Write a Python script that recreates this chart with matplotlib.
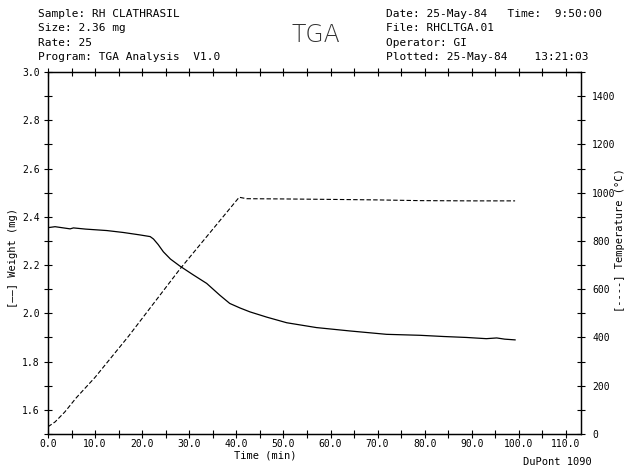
import matplotlib
matplotlib.use("Agg")
import matplotlib.pyplot as plt
from matplotlib.ticker import MultipleLocator, FormatStrFormatter

# weight trace (solid)
time_w = [0, 1.5, 4.7, 5.4, 8.0, 12.5, 16.0, 19.5, 21.7, 22.4, 23.4, 24.5, 26.0,
          28.0, 30.8, 33.7, 36.5, 38.6, 40.8, 42.9, 46.5, 50.7, 57.0, 64.1, 71.9,
          79.0, 84.0, 88.9, 93.1, 95.3, 97.0, 99.2]
weight = [2.355, 2.359, 2.350, 2.354, 2.349, 2.343, 2.335, 2.325, 2.318, 2.308,
          2.285, 2.255, 2.225, 2.196, 2.160, 2.124, 2.075, 2.041, 2.022, 2.006,
          1.984, 1.961, 1.941, 1.927, 1.913, 1.909, 1.904, 1.900, 1.895, 1.898,
          1.893, 1.890]

# temperature trace (dashed)
time_t = [0, 1.5, 3.6, 6.0, 10.0, 17.1, 28.0, 40.6, 42.2, 50.0, 60.6,
          70.0, 79.0, 90.0, 99.2]
temp = [30, 50, 92, 150, 235, 405, 683, 981, 975, 974, 972, 970, 967, 966, 966]

header_left = ["Sample: RH CLATHRASIL", "Size: 2.36 mg", "Rate: 25",
               "Program: TGA Analysis  V1.0"]
header_right = ["Date: 25-May-84   Time:  9:50:00", "File: RHCLTGA.01",
                "Operator: GI", "Plotted: 25-May-84    13:21:03"]

W, H = 632, 466
MONO = "DejaVu Sans Mono"
plt.rcParams['font.family'] = MONO

fig = plt.figure(figsize=(W / 100, H / 100), dpi=100)
ax = fig.add_axes([48 / W, 32 / H, 533 / W, 362 / H])
ax2 = ax.twinx()

ax.plot(time_w, weight, color='black', lw=0.9)
ax2.plot(time_t, temp, color='black', lw=0.8, dashes=(4, 2))

ax.set_xlim(0, 113.2)
ax.set_ylim(1.5, 3.0)
ax2.set_ylim(0, 1500)

ax.xaxis.set_major_locator(MultipleLocator(10))
ax.xaxis.set_minor_locator(MultipleLocator(5))
ax.xaxis.set_major_formatter(FormatStrFormatter('%.1f'))
ax.yaxis.set_major_locator(MultipleLocator(0.2))
ax.yaxis.set_minor_locator(MultipleLocator(0.1))
ax.yaxis.set_major_formatter(FormatStrFormatter('%.1f'))
ax2.yaxis.set_major_locator(MultipleLocator(200))
ax2.yaxis.set_minor_locator(MultipleLocator(100))
ax2.yaxis.set_major_formatter(FormatStrFormatter('%d'))

ax.tick_params(axis='x', which='both', direction='inout', top=True, length=6,
               width=0.8, labelsize=7, pad=0.5)
ax.tick_params(axis='y', which='both', direction='inout', length=6, width=0.8,
               labelsize=7, pad=3)
ax2.tick_params(axis='y', which='both', direction='inout', length=6, width=0.8,
                labelsize=7, pad=5)

for a in (ax, ax2):
    for s in a.spines.values():
        s.set_linewidth(0.9)

def ftext(x, y, s, **kw):
    fig.text(x / W, 1 - y / H, s, **kw)

for i, line in enumerate(header_left):
    ftext(38, 14 + i * 14.3, line, fontsize=8, va='center', ha='left')
for i, line in enumerate(header_right):
    ftext(386, 14 + i * 14.3, line, fontsize=8, va='center', ha='left')

# big title, thin stroke like the plotter pen
ftext(316, 35, "TGA", fontsize=17, va='center', ha='center',
      family='DejaVu Sans', fontweight='light', color='#333333')

ftext(265, 455, "Time (min)", fontsize=7.5, ha='center', va='center')
ftext(592, 462, "DuPont 1090", fontsize=7.5, ha='right', va='center')
ftext(13, 258, "[\u2014\u2014] Weight (mg)", fontsize=7.5, rotation=90,
      ha='center', va='center')
ftext(620, 240, "[----] Temperature (\u00b0C)", fontsize=7.5, rotation=90,
      ha='center', va='center')

fig.savefig("out.png", dpi=100)
